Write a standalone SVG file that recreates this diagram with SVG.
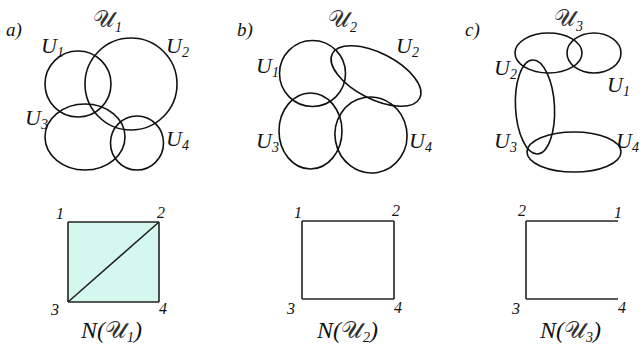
<svg xmlns="http://www.w3.org/2000/svg" width="641" height="349" viewBox="0 0 641 349">
<style>
.set{fill:none;stroke:#111;stroke-width:1.6}
.edge{fill:none;stroke:#222;stroke-width:1.6}
.t{font-family:"Liberation Serif","DejaVu Serif",serif;font-style:italic;fill:#111}
.lbl{font-size:22px}
.sub{font-size:14px}
.num{font-size:16px}
.pan{font-size:19px}
.scr{font-family:"DejaVu Serif","DejaVu Sans",serif;font-style:normal;font-weight:normal;fill:#333}
.ttl{font-size:24px}
</style>
<rect width="641" height="349" fill="#fff"/>

<!-- Panel a -->
<g id="panel-a">
  <text class="t pan" x="6" y="36">a)</text>
  <text class="t ttl" x="93" y="27"><tspan class="scr">𝒰</tspan><tspan class="sub" dy="5">1</tspan></text>
  <g id="a-U1"><circle class="set" cx="78" cy="84" r="33"/><text class="t lbl" x="41" y="53">U<tspan class="sub" dy="4">1</tspan></text></g>
  <g id="a-U2"><circle class="set" cx="131" cy="84" r="46"/><text class="t lbl" x="166" y="53">U<tspan class="sub" dy="4">2</tspan></text></g>
  <g id="a-U3"><ellipse class="set" cx="85" cy="137" rx="40" ry="33"/><text class="t lbl" x="25" y="125">U<tspan class="sub" dy="4">3</tspan></text></g>
  <g id="a-U4"><ellipse class="set" cx="137" cy="143" rx="26.5" ry="27"/><text class="t lbl" x="166" y="146">U<tspan class="sub" dy="4">4</tspan></text></g>
</g>

<!-- Panel b -->
<g id="panel-b">
  <text class="t pan" x="237" y="36">b)</text>
  <text class="t ttl" x="328" y="27"><tspan class="scr">𝒰</tspan><tspan class="sub" dy="5">2</tspan></text>
  <g id="b-U1"><ellipse class="set" cx="312.5" cy="73.5" rx="33" ry="33"/><text class="t lbl" x="256" y="73">U<tspan class="sub" dy="4">1</tspan></text></g>
  <g id="b-U2"><ellipse class="set" cx="376" cy="76" rx="49" ry="23" transform="rotate(27 376 76)"/><text class="t lbl" x="396" y="53">U<tspan class="sub" dy="4">2</tspan></text></g>
  <g id="b-U3"><ellipse class="set" cx="310.5" cy="131" rx="31.5" ry="38"/><text class="t lbl" x="256" y="148">U<tspan class="sub" dy="4">3</tspan></text></g>
  <g id="b-U4"><ellipse class="set" cx="371" cy="135" rx="36" ry="38" transform="rotate(-10 371 135)"/><text class="t lbl" x="409" y="148">U<tspan class="sub" dy="4">4</tspan></text></g>
</g>

<!-- Panel c -->
<g id="panel-c">
  <text class="t pan" x="465" y="36">c)</text>
  <text class="t ttl" x="554" y="26"><tspan class="scr">𝒰</tspan><tspan class="sub" dy="5">3</tspan></text>
  <g id="c-U2"><ellipse class="set" cx="548.5" cy="53" rx="33.5" ry="20"/><text class="t lbl" x="494" y="75">U<tspan class="sub" dy="4">2</tspan></text></g>
  <g id="c-U1"><ellipse class="set" cx="594" cy="53" rx="27" ry="20"/><text class="t lbl" x="607" y="92">U<tspan class="sub" dy="4">1</tspan></text></g>
  <g id="c-U3"><ellipse class="set" cx="535" cy="107" rx="19.5" ry="47" transform="rotate(-3 535 107)"/><text class="t lbl" x="494" y="148">U<tspan class="sub" dy="4">3</tspan></text></g>
  <g id="c-U4"><ellipse class="set" cx="574" cy="152" rx="47" ry="20"/><text class="t lbl" x="616" y="148">U<tspan class="sub" dy="4">4</tspan></text></g>
</g>

<!-- Nerve a -->
<g id="nerve-a">
  <polygon id="a-face" points="68,222 159,222 159,302 68,302" fill="#d4f7ee" stroke="none"/>
  <g id="a-connectors">
    <line class="edge" x1="68" y1="222" x2="159" y2="222"/>
    <line class="edge" x1="68" y1="222" x2="68" y2="302"/>
    <line class="edge" x1="159" y1="222" x2="159" y2="302"/>
    <line class="edge" x1="68" y1="302" x2="159" y2="302"/>
    <line class="edge" x1="68" y1="302" x2="159" y2="222"/>
  </g>
  <g id="a-n1"><text class="t num" x="56" y="219">1</text></g>
  <g id="a-n2"><text class="t num" x="157" y="218">2</text></g>
  <g id="a-n3"><text class="t num" x="51" y="315">3</text></g>
  <g id="a-n4"><text class="t num" x="159" y="314">4</text></g>
  <text class="t ttl" x="81" y="338">N(<tspan class="scr">𝒰</tspan><tspan class="sub" dy="4">1</tspan><tspan dy="-4">)</tspan></text>
</g>

<!-- Nerve b -->
<g id="nerve-b">
  <g id="b-connectors">
    <line class="edge" x1="302" y1="221" x2="394" y2="221"/>
    <line class="edge" x1="302" y1="221" x2="302" y2="299"/>
    <line class="edge" x1="394" y1="221" x2="394" y2="299"/>
    <line class="edge" x1="302" y1="299" x2="394" y2="299"/>
  </g>
  <g id="b-n1"><text class="t num" x="294" y="218">1</text></g>
  <g id="b-n2"><text class="t num" x="392" y="216">2</text></g>
  <g id="b-n3"><text class="t num" x="287" y="314">3</text></g>
  <g id="b-n4"><text class="t num" x="394" y="313">4</text></g>
  <text class="t ttl" x="317" y="338">N(<tspan class="scr">𝒰</tspan><tspan class="sub" dy="4">2</tspan><tspan dy="-4">)</tspan></text>
</g>

<!-- Nerve c -->
<g id="nerve-c">
  <g id="c-connectors">
    <line class="edge" x1="526" y1="221" x2="618" y2="221"/>
    <line class="edge" x1="526" y1="221" x2="526" y2="299"/>
    <line class="edge" x1="526" y1="299" x2="618" y2="299"/>
  </g>
  <g id="c-n2"><text class="t num" x="518" y="216">2</text></g>
  <g id="c-n1"><text class="t num" x="614" y="218">1</text></g>
  <g id="c-n3"><text class="t num" x="512" y="314">3</text></g>
  <g id="c-n4"><text class="t num" x="618" y="313">4</text></g>
  <text class="t ttl" x="540" y="338">N(<tspan class="scr">𝒰</tspan><tspan class="sub" dy="4">3</tspan><tspan dy="-4">)</tspan></text>
</g>
</svg>
